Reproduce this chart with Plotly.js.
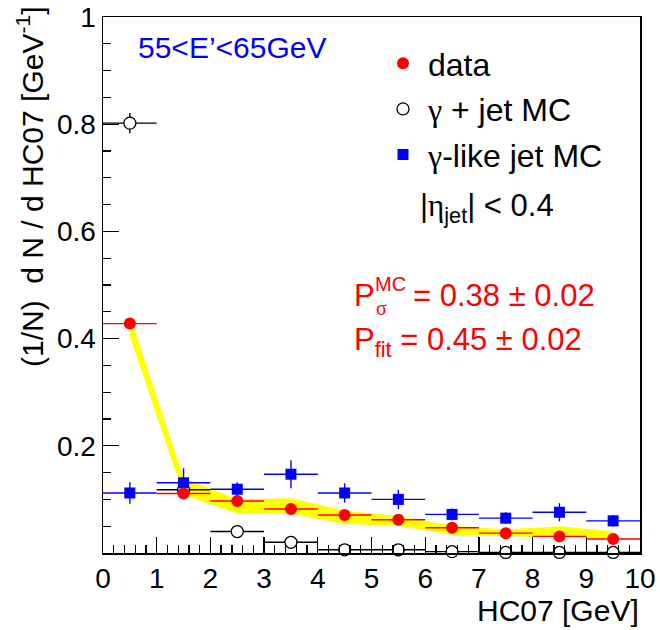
<!DOCTYPE html>
<html>
<head>
<meta charset="utf-8">
<script src="https://cdn.plot.ly/plotly-3.0.1.min.js"></script>
<style>
  html, body { margin: 0; padding: 0; background: #ffffff; }
  #chart { width: 660px; height: 630px; }
</style>
</head>
<body>
<div id="chart"></div>
<script>
// HC07 bin centres (GeV), bin half-width 0.5 GeV
const hc07 = [0.5, 1.5, 2.5, 3.5, 4.5, 5.5, 6.5, 7.5, 8.5, 9.5];
const binHalfWidth = 0.5;

// data
const dataVals = [0.428, 0.111, 0.097, 0.082, 0.071, 0.062, 0.047, 0.037, 0.031, 0.026];
const dataErrs = [0.006, 0.004, 0.004, 0.004, 0.003, 0.003, 0.003, 0.002, 0.002, 0.002];

// gamma + jet MC
const gammaJetVals = [0.802, 0.118, 0.040, 0.020, 0.006, 0.006, 0.0025, 0.001, 0.001, 0.001];
const gammaJetErrs = [0.019, 0.006, 0.004, 0.003, 0.002, 0.002, 0.001, 0.001, 0.001, 0.001];

// gamma-like jet MC
const jetVals = [0.112, 0.131, 0.119, 0.147, 0.112, 0.100, 0.072, 0.065, 0.076, 0.060];
const jetErrs = [0.020, 0.027, 0.013, 0.026, 0.018, 0.018, 0.011, 0.011, 0.017, 0.011];

// fit uncertainty band
const bandLow  = [0.405, 0.108, 0.074, 0.073, 0.054, 0.051, 0.034, 0.031, 0.029, 0.026];
const bandHigh = [0.443, 0.141, 0.100, 0.102, 0.079, 0.069, 0.051, 0.044, 0.050, 0.040];

// axis tick labels
const yTickVals = [0.2, 0.4, 0.6, 0.8, 1];
const yTickText = ['0.2', '0.4', '0.6', '0.8', '1'];

const FONT = 'Liberation Sans, Arial, Helvetica, sans-serif';
const GREEK = 'Liberation Serif, Times New Roman, serif';
const RED = '#ff0000', BLUE = '#0000ff', BLACK = '#000000', YELLOW = '#ffff00';

// Greek symbols set in a serif face, like the classic symbol font
const greek = ch => '<span style="font-family:' + GREEK + '">' + ch + '</span>';

const xErr = hc07.map(() => binHalfWidth);

const band = {
  x: hc07.concat(hc07.slice().reverse()),
  y: bandHigh.concat(bandLow.slice().reverse()),
  type: 'scatter', mode: 'lines', fill: 'toself',
  fillcolor: YELLOW, line: { width: 0, color: YELLOW },
  hoverinfo: 'skip', showlegend: false
};

function series(name, ys, errs, color, symbol, size, fill, rank) {
  return {
    x: hc07, y: ys, name: name,
    type: 'scatter', mode: 'markers', cliponaxis: false,
    legendgroup: 'g' + rank, legendrank: rank,
    marker: { symbol: symbol, size: size, color: fill, line: { color: color, width: fill === '#ffffff' ? 1.3 : 0 } },
    error_x: { type: 'data', array: xErr, visible: true, color: color, thickness: 1.4, width: 0 },
    error_y: { type: 'data', array: errs, visible: true, color: color, thickness: 1.4, width: 0 }
  };
}

const traces = [
  band,
  series(greek('\u03b3') + ' + jet MC', gammaJetVals, gammaJetErrs, BLACK, 'circle', 12, '#ffffff', 2),
  series(greek('\u03b3') + '-like jet MC', jetVals, jetErrs, BLUE, 'square', 11, BLUE, 3),
  series('data', dataVals, dataErrs, RED, 'circle', 12, RED, 1)
];

// plot area: x 103..640 px, y 17..553 px
const L = 103, R = 640, T = 17, B = 553;
const px = v => (v - L) / (R - L);
const py = v => (B - v) / (B - T);

function note(text, x, y, size, color, extra) {
  return Object.assign({
    text: text, xref: 'paper', yref: 'paper', x: px(x), y: py(y),
    xanchor: 'left', yanchor: 'middle', showarrow: false,
    font: { family: FONT, size: size, color: color }
  }, extra || {});
}

const layout = {
  width: 660, height: 630,
  margin: { l: L, r: 660 - R, t: T, b: 630 - B },
  paper_bgcolor: '#ffffff', plot_bgcolor: '#ffffff',
  font: { family: FONT, color: BLACK },
  showlegend: true,
  legend: {
    x: px(378), y: py(36), xanchor: 'left', yanchor: 'top',
    bgcolor: 'rgba(0,0,0,0)', borderwidth: 0,
    font: { family: FONT, size: 32, color: BLACK },
    traceorder: 'grouped', tracegroupgap: 1, itemwidth: 40
  },
  xaxis: {
    range: [0, 10], showgrid: false, zeroline: false,
    showline: true, linecolor: BLACK, linewidth: 1.5, mirror: true,
    ticks: 'inside', ticklen: 16, tickwidth: 1.3, tickcolor: BLACK,
    tickmode: 'linear', tick0: 0, dtick: 1,
    tickfont: { family: FONT, size: 28, color: BLACK },
    minor: { ticks: 'inside', ticklen: 8, tickwidth: 1.3, tickcolor: BLACK, tickmode: 'linear', tick0: 0, dtick: 0.2 }
  },
  yaxis: {
    range: [0, 1], showgrid: false, zeroline: false,
    showline: true, linecolor: BLACK, linewidth: 1.5, mirror: true,
    ticks: 'inside', ticklen: 16, tickwidth: 1.3, tickcolor: BLACK,
    tickmode: 'array', tickvals: yTickVals, ticktext: yTickText,
    tickfont: { family: FONT, size: 28, color: BLACK },
    minor: { ticks: 'inside', ticklen: 8, tickwidth: 1.3, tickcolor: BLACK, tickmode: 'linear', tick0: 0, dtick: 0.05 }
  },
  annotations: [
    note('55&lt;E\u2019&lt;65GeV', 136, 47, 30, BLUE),
    note('|' + greek('\u03b7') + '<sub>jet</sub>| &lt; 0.4', 418, 208, 31, BLACK),
    note('P', 352, 295, 31, RED),
    note('MC', 373, 284, 20, RED),
    note(greek('\u03c3'), 374, 308, 20, RED),
    note('= 0.38 \u00b1 0.02', 411, 295, 31, RED),
    note('P<sub>fit</sub> = 0.45 \u00b1 0.02', 352, 342, 31, RED),
    note('HC07 [GeV]', 641, 610, 30, BLACK, { xanchor: 'right' }),
    note('(1/N)  d N / d HC07 [GeV<sup>-1</sup>]', 30, 5, 30, BLACK,
         { xanchor: 'center', yanchor: 'top', textangle: -90 })
  ]
};

Plotly.newPlot('chart', traces, layout, { displayModeBar: false, staticPlot: true });
</script>
</body>
</html>
